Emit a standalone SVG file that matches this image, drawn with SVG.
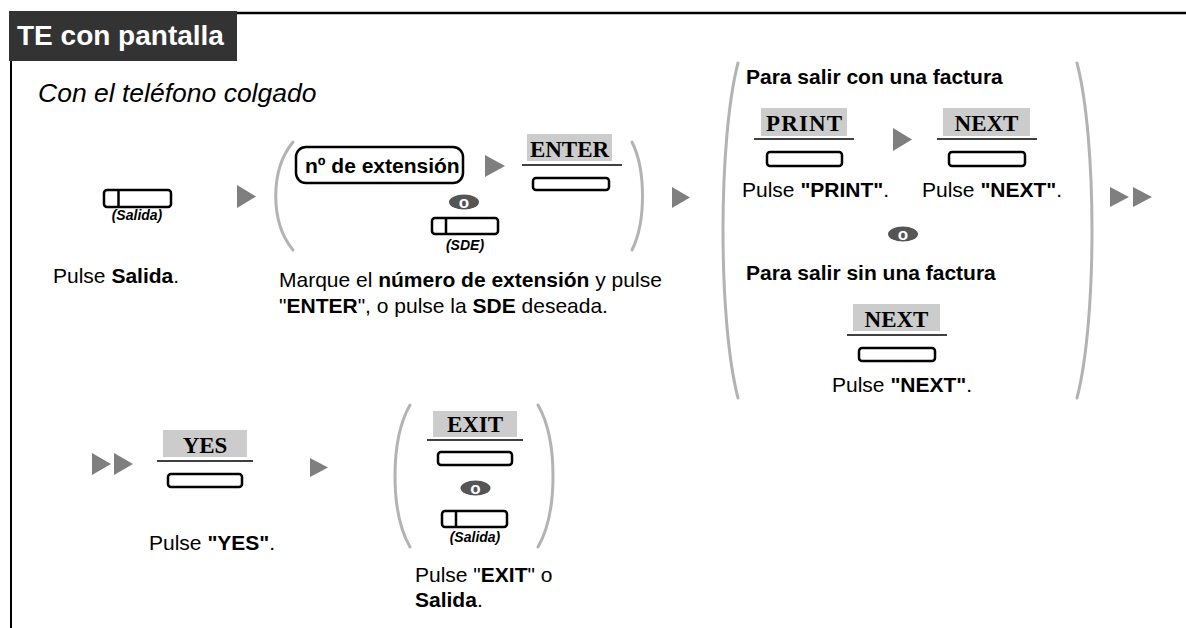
<svg xmlns="http://www.w3.org/2000/svg" width="1186" height="628" viewBox="0 0 1186 628">
<style>
.t{font-family:"Liberation Sans",Arial,Helvetica,sans-serif;font-size:21px;fill:#000}
.b{font-weight:bold}
.cap{font-family:"Liberation Sans",Arial,sans-serif;font-size:14px;font-weight:bold;font-style:italic;fill:#000;text-anchor:middle}
.key{font-family:"Liberation Serif","Times New Roman",serif;font-weight:bold;font-size:23px;fill:#000;text-anchor:middle}
.kbg{fill:#cccccc}
.kl{stroke:#000;stroke-width:1.5}
.btn{fill:#fff;stroke:#000;stroke-width:2.5}
.par{fill:none;stroke:#b3b3b3;stroke-width:3;stroke-linecap:round}
.arr{fill:#7f7f7f}
.ov{fill:#555}
.ot{font-family:"Liberation Sans",Arial,sans-serif;font-size:17px;font-weight:bold;fill:#fff;text-anchor:middle}
</style>
<defs>
<g id="orbadge"><ellipse class="ov" cx="0" cy="0" rx="15" ry="7.5"/><text class="ot" x="0" y="6">o</text></g>
</defs>
<rect width="1186" height="628" fill="#fff"/>
<g id="frame">
<line x1="237" y1="13" x2="1186" y2="13" stroke="#000" stroke-width="2.5"/>
<line x1="11" y1="61" x2="11" y2="628" stroke="#000" stroke-width="2"/>
<rect x="9" y="11" width="228" height="50" fill="#333"/>
<text x="17" y="45" font-family="Liberation Sans,Arial,sans-serif" font-size="28" font-weight="bold" fill="#fff">TE con pantalla</text>
<text x="38" y="102" font-family="Liberation Sans,Arial,sans-serif" font-size="26.5" font-style="italic" fill="#000">Con el teléfono colgado</text>
</g>
<g id="step1">
<rect class="btn" x="104" y="190" width="67" height="17" rx="3"/>
<line x1="118.5" y1="190" x2="118.5" y2="207" stroke="#000" stroke-width="2.5"/>
<text class="cap" x="137" y="220">(Salida)</text>
<text class="t" x="53" y="283">Pulse <tspan class="b">Salida</tspan>.</text>
</g>
<g id="step2">
<path class="par" d="M293,142 C270,170 270,222 293,250"/>
<path class="par" d="M632,142 C646,170 646,222 632,250"/>
<rect x="296" y="147" width="167" height="36" rx="10" fill="#fff" stroke="#000" stroke-width="2.5"/>
<text class="t b" x="305" y="173">nº de extensión</text>
<rect class="kbg" x="527" y="134" width="85" height="27"/>
<text class="key" x="569.5" y="157">ENTER</text>
<line class="kl" x1="522" y1="165" x2="622" y2="165"/>
<rect class="btn" x="533" y="178" width="76" height="12" rx="3"/>
<use href="#orbadge" x="464" y="202"/>
<rect class="btn" x="432" y="218" width="66" height="16" rx="3"/>
<line x1="446" y1="218" x2="446" y2="234" stroke="#000" stroke-width="2.5"/>
<text class="cap" x="465" y="250">(SDE)</text>
<text class="t" x="279" y="287">Marque el <tspan class="b">número de extensión</tspan> y pulse</text>
<text class="t" x="279" y="313">"<tspan class="b">ENTER</tspan>", o pulse la <tspan class="b">SDE</tspan> deseada.</text>
</g>
<g id="step3">
<path class="par" d="M738,63 C718,140 718,321 738,398"/>
<path class="par" d="M1077,63 C1097,140 1097,321 1077,398"/>
<text class="t b" x="746" y="84">Para salir con una factura</text>
<rect class="kbg" x="761" y="108" width="86" height="28"/>
<text class="key" x="804" y="131" textLength="76" lengthAdjust="spacing">PRINT</text>
<line class="kl" x1="754" y1="139" x2="854" y2="139"/>
<rect class="btn" x="767" y="152" width="75" height="14" rx="3"/>
<text class="t" x="742" y="197">Pulse <tspan class="b">"PRINT"</tspan>.</text>
<rect class="kbg" x="943" y="108" width="87" height="28"/>
<text class="key" x="986.5" y="131">NEXT</text>
<line class="kl" x1="937" y1="139" x2="1037" y2="139"/>
<rect class="btn" x="949" y="152" width="76" height="14" rx="3"/>
<text class="t" x="922" y="197">Pulse <tspan class="b">"NEXT"</tspan>.</text>
<use href="#orbadge" x="903" y="234"/>
<text class="t b" x="746" y="280">Para salir sin una factura</text>
<rect class="kbg" x="853" y="304" width="87" height="27"/>
<text class="key" x="896.5" y="327">NEXT</text>
<line class="kl" x1="847" y1="335" x2="947" y2="335"/>
<rect class="btn" x="859" y="348" width="76" height="13" rx="3"/>
<text class="t" x="832" y="392">Pulse <tspan class="b">"NEXT"</tspan>.</text>
</g>
<g id="step4">
<rect class="kbg" x="163" y="430" width="84" height="27"/>
<text class="key" x="205" y="453">YES</text>
<line class="kl" x1="157" y1="461" x2="253" y2="461"/>
<rect class="btn" x="168" y="474" width="74" height="13" rx="3"/>
<text class="t" x="149" y="550">Pulse <tspan class="b">"YES"</tspan>.</text>
</g>
<g id="step5">
<path class="par" d="M410,405 C390,440 390,512 410,547"/>
<path class="par" d="M538,405 C558,440 558,512 538,547"/>
<rect class="kbg" x="433" y="411" width="84" height="26"/>
<text class="key" x="475" y="432">EXIT</text>
<line class="kl" x1="427" y1="440" x2="523" y2="440"/>
<rect class="btn" x="438" y="452" width="74" height="13" rx="3"/>
<use href="#orbadge" x="475.5" y="488"/>
<rect class="btn" x="442" y="511" width="65" height="16" rx="3"/>
<line x1="456" y1="511" x2="456" y2="527" stroke="#000" stroke-width="2.5"/>
<text class="cap" x="475" y="542">(Salida)</text>
<text class="t" x="415" y="582">Pulse "<tspan class="b">EXIT</tspan>" o</text>
<text class="t b" x="415" y="607">Salida<tspan font-weight="normal">.</tspan></text>
</g>
<g id="connectors">
<polygon class="arr" points="237,185 256,196.5 237,208"/>
<polygon class="arr" points="485,155 505,166 485,177"/>
<polygon class="arr" points="672,187 690,197.5 672,208"/>
<polygon class="arr" points="893,128 912,139.5 893,151"/>
<polygon class="arr" points="1110,187 1129,197 1110,207"/>
<polygon class="arr" points="1133,187 1152,197 1133,207"/>
<polygon class="arr" points="92,453 111,464 92,475"/>
<polygon class="arr" points="114,453 133,464 114,475"/>
<polygon class="arr" points="310,458 328,467.5 310,477"/>
</g>
</svg>
